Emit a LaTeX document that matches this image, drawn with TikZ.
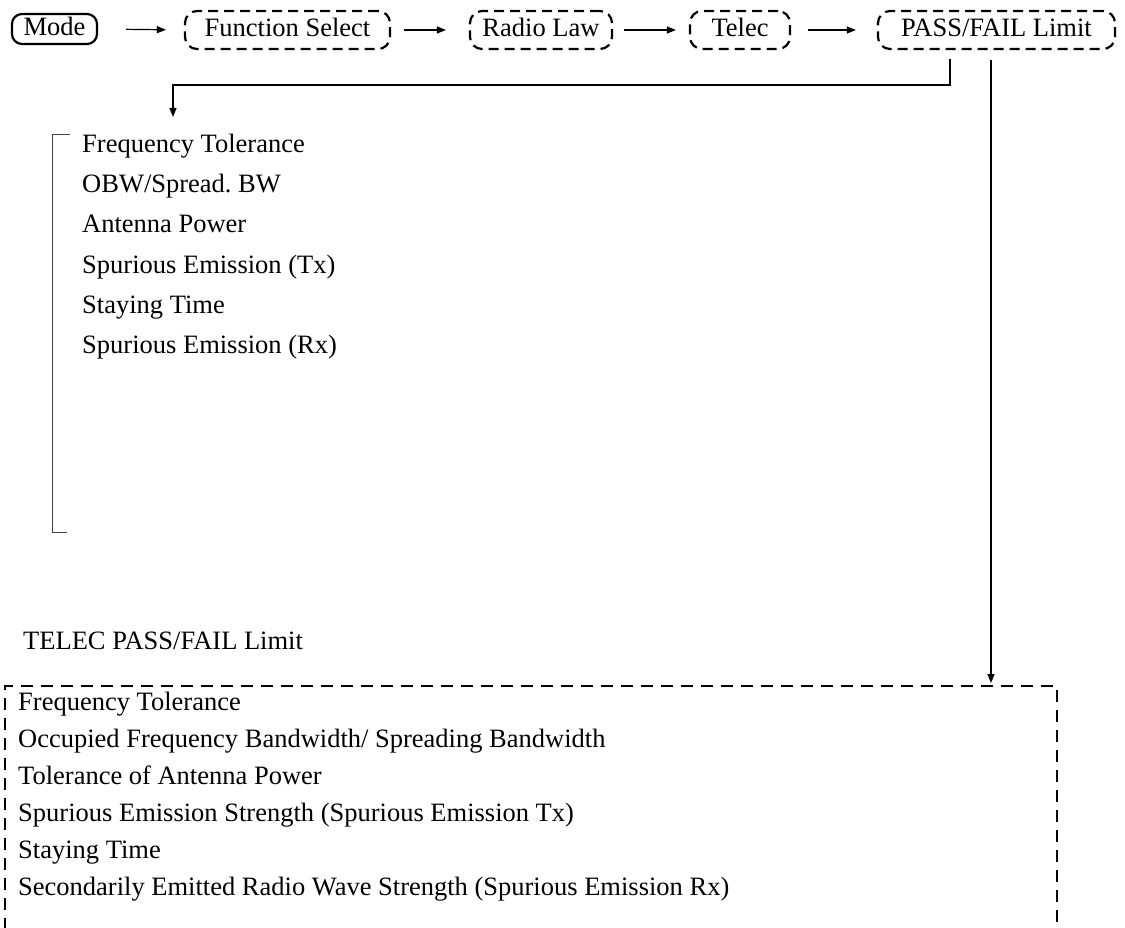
\documentclass[tikz,border=0pt]{standalone}
\usepackage{fontspec}
\setmainfont{Liberation Serif}
\usetikzlibrary{arrows.meta}
\frenchspacing
\begin{document}
\begin{tikzpicture}[x=1pt,y=-1pt,
  every node/.style={font=\fontsize{26.5}{30}\selectfont, inner sep=0pt},
  topbox/.style={text height=18pt, text depth=5pt, line width=2.2pt},
  solidbox/.style={topbox, draw, rounded corners=10pt, minimum height=30pt},
  dashbox/.style={topbox, draw, rounded corners=12pt, dash pattern=on 10pt off 6pt, minimum height=38pt},
  arr/.style={line width=1.2pt, -{Triangle[length=9pt,width=7pt]}},
  thinline/.style={line width=1pt, black!75},
  item/.style={anchor=base west},
  bigdash/.style={line width=1.5pt, dash pattern=on 12pt off 8pt}]
\useasboundingbox (0,0) rectangle (1125,928);

% top row
\node[solidbox, minimum width=85pt]  (mode) at (54.5,29) {Mode};
\node[dashbox,  minimum width=205pt] (fs)   at (287.5,30) {Function Select};
\node[dashbox,  minimum width=142pt] (rl)   at (541,30) {Radio Law};
\node[dashbox,  minimum width=100pt] (tel)  at (740,30) {Telec};
\node[dashbox,  minimum width=237pt] (pf)   at (996.5,30) {PASS/FAIL Limit};

\draw[arr, shorten <=28pt, shorten >=18pt] (mode.east) -- (fs.west);
\draw[arr, shorten <=13pt, shorten >=23pt] (fs.east) -- (rl.west);
\draw[arr, shorten <=11pt, shorten >=13pt] (rl.east) -- (tel.west);
\draw[arr, shorten <=17pt, shorten >=21pt] (tel.east) -- (pf.west);

% elbow to the short list
\coordinate (elbow) at (950,85);
\coordinate (listin) at (173,117);
\draw[arr, shorten <=9pt] (pf.south -| elbow) -- (elbow) -- (elbow -| listin) -- (listin);

% bracket and short list
\coordinate (brtop) at (52,135);
\coordinate (brbot) at (52,532);
\draw[thinline] ([xshift=18pt]brtop) -- (brtop) -- (brbot) -- ([xshift=15pt]brbot);

\node[item] (s1) at (82,153) {Frequency Tolerance};
\node[item] (s2) at (82,193) {OBW/Spread. BW};
\node[item] (s3) at (82,233) {Antenna Power};
\node[item] (s4) at (82,273) {Spurious Emission (Tx)};
\node[item] (s5) at (82,313) {Staying Time};
\node[item] (s6) at (82,353) {Spurious Emission (Rx)};

% lower box
\node[item] (tlabel) at (23,649) {TELEC PASS/FAIL Limit};
\coordinate (bxtl) at (5,686);
\coordinate (bxtr) at (1057,686);
\coordinate (bxbl) at (5,930);
\coordinate (bxbr) at (1057,930);
\draw[bigdash] (bxbl) -- (bxtl) -- (bxtr) -- (bxbr);

\coordinate (boxin) at (991,683);
\draw[arr, shorten <=10pt] (pf.south -| boxin) -- (boxin);

\node[item] (l1) at (18,710) {Frequency Tolerance};
\node[item] (l2) at (18,747) {Occupied Frequency Bandwidth/ Spreading Bandwidth};
\node[item] (l3) at (18,784) {Tolerance of Antenna Power};
\node[item] (l4) at (18,821) {Spurious Emission Strength (Spurious Emission Tx)};
\node[item] (l5) at (18,858) {Staying Time};
\node[item] (l6) at (18,895) {Secondarily Emitted Radio Wave Strength (Spurious Emission Rx)};
\end{tikzpicture}
\end{document}
